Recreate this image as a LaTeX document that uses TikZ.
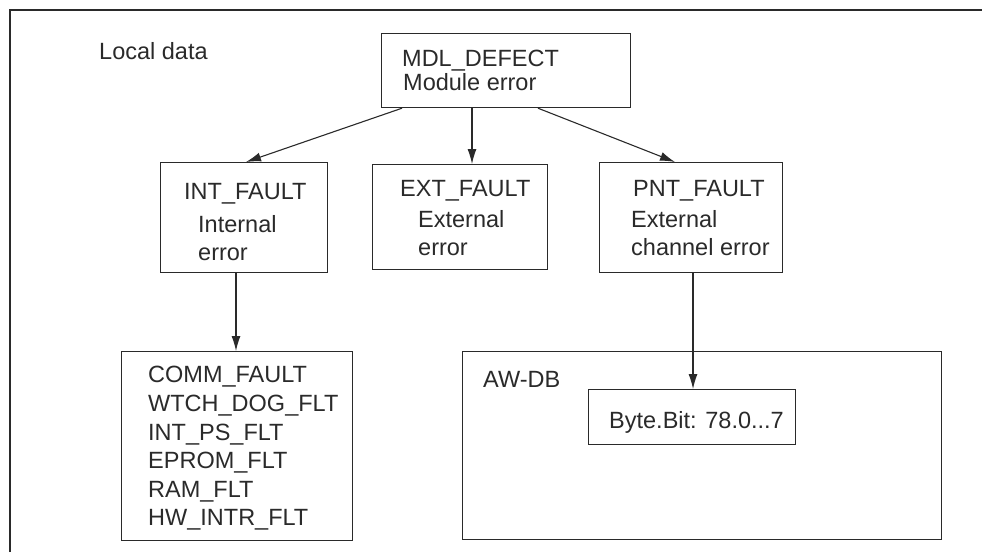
\documentclass[tikz,border=0pt]{standalone}
\usepackage{fontspec}
\setmainfont{Liberation Sans}
\usetikzlibrary{arrows.meta}
\definecolor{ink}{HTML}{2A2A2A}
\begin{document}
\begin{tikzpicture}[x=1pt,y=-1pt,
  box/.style={draw=ink,line width=1.2pt,rectangle,inner sep=0pt,anchor=north west},
  lbl/.style={anchor=base west,inner sep=0pt,text=ink,font=\fontsize{23.5}{28}\selectfont},
  arr/.style={draw=ink,line width=1.1pt,-{Latex[length=15pt,width=9pt]}}]
\useasboundingbox (0,0) rectangle (982,552);
% outer frame (cut off at right and bottom)
\coordinate (fbl) at (10,552);
\coordinate (ftl) at (10,10);
\coordinate (ftr) at (982,10);
\draw[ink,line width=1.3pt] (fbl) -- (ftl) -- (ftr);
% boxes
\node[box,minimum width=249pt,minimum height=74pt] (mdl) at (381,33) {};
\node[box,minimum width=167pt,minimum height=110pt] (int) at (160,162) {};
\node[box,minimum width=175pt,minimum height=105pt] (ext) at (372,164) {};
\node[box,minimum width=183pt,minimum height=110pt] (pnt) at (599,162) {};
\node[box,minimum width=231pt,minimum height=189pt] (comm) at (121,351) {};
\node[box,minimum width=479pt,minimum height=188pt] (awdb) at (462,351) {};
\node[box,minimum width=207pt,minimum height=55pt] (byte) at (588,389) {};
% texts
\node[lbl] (tlocal) at (99,59) {Local data};
\node[lbl] (tmdl1) at (402,66) {MDL\_DEFECT};
\node[lbl] (tmdl2) at (403,90) {Module error};
\node[lbl] (tint1) at (184,199) {INT\_FAULT};
\node[lbl] (tint2) at (198,232) {Internal};
\node[lbl] (tint3) at (198,260) {error};
\node[lbl] (text1) at (400,196) {EXT\_FAULT};
\node[lbl] (text2) at (418,227) {External};
\node[lbl] (text3) at (418,255) {error};
\node[lbl] (tpnt1) at (633,196) {PNT\_FAULT};
\node[lbl] (tpnt2) at (631,227) {External};
\node[lbl] (tpnt3) at (631,255) {channel error};
\node[lbl] (tc1) at (148,382) {COMM\_FAULT};
\node[lbl] (tc2) at (148,411) {WTCH\_DOG\_FLT};
\node[lbl] (tc3) at (148,440) {INT\_PS\_FLT};
\node[lbl] (tc4) at (148,468) {EPROM\_FLT};
\node[lbl] (tc5) at (148,497) {RAM\_FLT};
\node[lbl] (tc6) at (148,525) {HW\_INTR\_FLT};
\node[lbl] (taw) at (483,387) {AW-DB};
\node[lbl] (tbyte) at (609,428) {Byte.Bit: 78.0...7};
% connectors
\draw[arr] ([xshift=21pt]mdl.south west) -- ([xshift=86pt]int.north west);
\draw[arr] ([xshift=91pt]mdl.south west) -- ([xshift=100pt]ext.north west);
\draw[arr] ([xshift=157pt]mdl.south west) -- ([xshift=76pt]pnt.north west);
\draw[arr] ([xshift=76pt]int.south west) -- ([xshift=115pt]comm.north west);
\draw[arr] ([xshift=94pt]pnt.south west) -- ([xshift=105pt]byte.north west);
\end{tikzpicture}
\end{document}
